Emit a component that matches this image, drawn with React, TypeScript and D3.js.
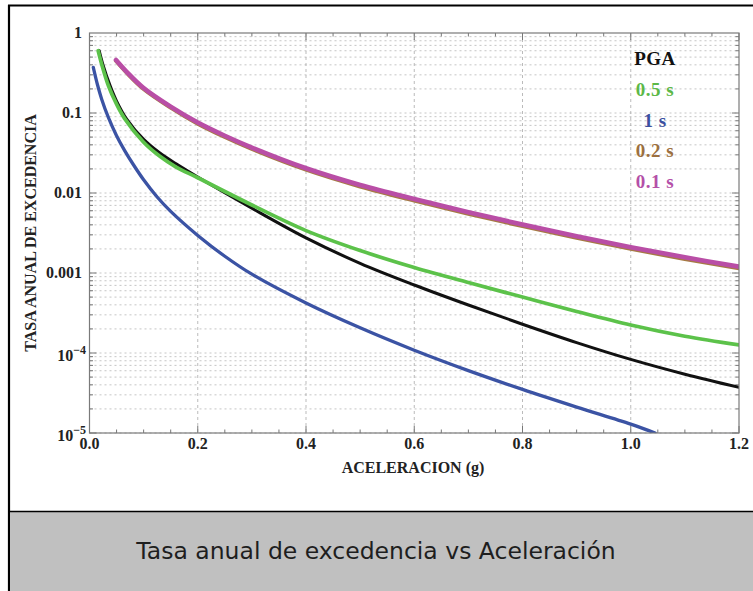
import React from "react";
import * as d3 from "d3";

const xTicks = [0, 0.2, 0.4, 0.6, 0.8, 1.0, 1.2];
const xTickLabels = ["0.0", "0.2", "0.4", "0.6", "0.8", "1.0", "1.2"];
const yDecades = [1, 0.1, 0.01, 0.001, 1e-4, 1e-5];
const yTickLabels = ["1", "0.1", "0.01", "0.001", "10|-4", "10|-5"];

const seriesNames = ["PGA", "0.5 s", "1 s", "0.2 s", "0.1 s"];
const seriesColors = ["#111111", "#5cc24a", "#3b53a4", "#a67a45", "#b94ea6"];
const labelColors = ["#111111", "#5cb848", "#3b4fa0", "#9c7040", "#b450a8"];

const pgaData: [number, number][] = [
  [0.018, 0.6], [0.025, 0.4], [0.038, 0.22], [0.05, 0.141], [0.069, 0.0832],
  [0.1, 0.0468], [0.13, 0.0316], [0.16, 0.0232], [0.2, 0.01585], [0.3, 0.00646],
  [0.4, 0.00275], [0.5, 0.00132], [0.6, 0.000708], [0.7, 0.000398], [0.8, 0.000229],
  [0.9, 0.000135], [1.0, 0.0000832], [1.1, 0.0000543], [1.2, 0.0000372],
];
const s05Data: [number, number][] = [
  [0.016, 0.6], [0.022, 0.42], [0.035, 0.219], [0.05, 0.129], [0.065, 0.0851],
  [0.1, 0.0432], [0.13, 0.0288], [0.16, 0.0211], [0.2, 0.0155], [0.3, 0.00708],
  [0.4, 0.00339], [0.5, 0.00191], [0.6, 0.00117], [0.7, 0.000759], [0.8, 0.000501],
  [0.9, 0.000331], [1.0, 0.000224], [1.1, 0.000162], [1.2, 0.000126],
];
const s1Data: [number, number][] = [
  [0.007, 0.372], [0.015, 0.222], [0.0225, 0.149], [0.035, 0.0875], [0.05, 0.0521],
  [0.065, 0.0339], [0.08, 0.0232], [0.1, 0.01462], [0.125, 0.00891], [0.15, 0.00589],
  [0.2, 0.00295], [0.25, 0.00162], [0.3, 0.000966], [0.4, 0.000422], [0.5, 0.0002065],
  [0.6, 0.0001084], [0.7, 0.0000603], [0.8, 0.0000351], [0.9, 0.0000211], [1.0, 0.0000129],
  [1.045, 0.00001],
];
const s02Data: [number, number][] = [
  [0.049, 0.45], [0.07, 0.313], [0.1, 0.2], [0.15, 0.117], [0.2, 0.0737],
  [0.25, 0.0502], [0.3, 0.0356], [0.4, 0.0196], [0.5, 0.0121], [0.6, 0.00807],
  [0.7, 0.00552], [0.8, 0.00386], [0.9, 0.00276], [1.0, 0.00201], [1.1, 0.0015], [1.2, 0.00115],
];
const s01Data: [number, number][] = [
  [0.049, 0.46], [0.07, 0.32], [0.1, 0.205], [0.15, 0.12], [0.2, 0.076],
  [0.25, 0.052], [0.3, 0.037], [0.4, 0.0204], [0.5, 0.0126], [0.6, 0.00841],
  [0.7, 0.00575], [0.8, 0.00403], [0.9, 0.00288], [1.0, 0.0021], [1.1, 0.00157], [1.2, 0.0012],
];

const W = 753;
const H = 591;
const PL = 89.5, PR = 739, PT = 33, PB = 433;

export default function App() {
  const x = d3.scaleLinear().domain([0, 1.2]).range([PL, PR]);
  const y = d3.scaleLog().domain([1e-5, 1]).range([PB, PT]);
  const line = d3
    .line<[number, number]>()
    .x((d) => x(d[0]))
    .y((d) => y(d[1]))
    .curve(d3.curveCatmullRom.alpha(0.5));

  const minorY: number[] = [];
  for (let e = -5; e < 0; e++) {
    for (let m = 1; m <= 9; m++) minorY.push(m * Math.pow(10, e));
  }
  const minorX = d3.range(0, 1.2001, 0.05);
  const serif = "'Liberation Serif', 'Times New Roman', serif";

  const drawOrder: { data: [number, number][]; color: string; w: number }[] = [
    { data: s1Data, color: seriesColors[2], w: 3.3 },
    { data: s02Data, color: seriesColors[3], w: 4.2 },
    { data: s01Data, color: seriesColors[4], w: 4.6 },
    { data: pgaData, color: seriesColors[0], w: 3 },
    { data: s05Data, color: seriesColors[1], w: 3.7 },
  ];

  return (
    <svg
      width={W}
      height={H}
      style={{ position: "absolute", left: 0, top: 0, background: "#fff" }}
    >
      <defs>
        <clipPath id="plotclip">
          <rect x={PL} y={PT} width={PR - PL} height={PB - PT} />
        </clipPath>
      </defs>
      <line x1={8} y1={5.5} x2={W} y2={5.5} stroke="#000" strokeWidth={2} />
      <line x1={9} y1={5} x2={9} y2={H} stroke="#000" strokeWidth={2.2} />
      <rect x={10} y={512} width={W - 10} height={H - 512} fill="#c0c0c0" />
      <line x1={8} y1={511.5} x2={W} y2={511.5} stroke="#000" strokeWidth={1.5} />
      <text
        x={376}
        y={559}
        textAnchor="middle"
        fontFamily="'DejaVu Sans', Verdana, sans-serif"
        fontSize={23.5}
        fill="#1e1e1e"
      >
        Tasa anual de excedencia vs Aceleración
      </text>

      {minorY.map((v, i) => (
        <line
          key={"gy" + i}
          x1={PL}
          x2={PR}
          y1={y(v)}
          y2={y(v)}
          stroke="#b8b8b8"
          strokeWidth={0.8}
          strokeDasharray="2,3"
        />
      ))}
      {xTicks.slice(1, -1).map((v, i) => (
        <line
          key={"gx" + i}
          x1={x(v)}
          x2={x(v)}
          y1={PT}
          y2={PB}
          stroke="#aaaaaa"
          strokeWidth={0.8}
          strokeDasharray="3,3"
        />
      ))}

      {minorY.map((v, i) => {
        const major = i % 9 === 0;
        const len = major ? 7 : 3.5;
        return (
          <g key={"ty" + i}>
            <line x1={PL} x2={PL + len} y1={y(v)} y2={y(v)} stroke="#777" strokeWidth={1} />
            <line x1={PR} x2={PR - len} y1={y(v)} y2={y(v)} stroke="#777" strokeWidth={1} />
          </g>
        );
      })}
      {minorX.map((v, i) => {
        const major = i % 4 === 0;
        const len = major ? 7 : 3.5;
        return (
          <g key={"tx" + i}>
            <line x1={x(v)} x2={x(v)} y1={PB} y2={PB - len} stroke="#777" strokeWidth={1} />
            <line x1={x(v)} x2={x(v)} y1={PT} y2={PT + len} stroke="#777" strokeWidth={1} />
          </g>
        );
      })}

      <g clipPath="url(#plotclip)">
        {drawOrder.map((s, i) => (
          <path
            key={"s" + i}
            d={line(s.data) || ""}
            fill="none"
            stroke={s.color}
            strokeWidth={s.w}
            strokeLinecap="round"
            strokeLinejoin="round"
          />
        ))}
      </g>

      <rect
        x={PL}
        y={PT}
        width={PR - PL}
        height={PB - PT}
        fill="none"
        stroke="#7a7a7a"
        strokeWidth={1.2}
      />

      {yDecades.map((v, i) => {
        const lab = yTickLabels[i];
        if (lab.includes("|")) {
          const [base, exp] = lab.split("|");
          return (
            <text
              key={"yl" + i}
              x={86}
              y={y(v) + 8}
              textAnchor="end"
              fontFamily={serif}
              fontWeight="bold"
              fontSize={16}
              fill="#222"
            >
              {base}
              <tspan fontSize={12} dy={-7}>
                {"\u2212" + exp.replace("-", "")}
              </tspan>
            </text>
          );
        }
        return (
          <text
            key={"yl" + i}
            x={82}
            y={y(v) + 5}
            textAnchor="end"
            fontFamily={serif}
            fontWeight="bold"
            fontSize={16}
            fill="#222"
          >
            {lab}
          </text>
        );
      })}

      {xTicks.map((v, i) => (
        <text
          key={"xl" + i}
          x={x(v)}
          y={449}
          textAnchor="middle"
          fontFamily={serif}
          fontWeight="bold"
          fontSize={16}
          fill="#222"
        >
          {xTickLabels[i]}
        </text>
      ))}

      <text
        x={413}
        y={473}
        textAnchor="middle"
        fontFamily={serif}
        fontWeight="bold"
        fontSize={16}
        fill="#222"
      >
        ACELERACION (g)
      </text>
      <text
        transform="translate(36,233) rotate(-90)"
        textAnchor="middle"
        fontFamily={serif}
        fontWeight="bold"
        fontSize={16}
        fill="#222"
      >
        TASA ANUAL DE EXCEDENCIA
      </text>

      {seriesNames.map((n, i) => (
        <text
          key={"lg" + i}
          x={655}
          y={65 + i * 30.8}
          textAnchor="middle"
          fontFamily={serif}
          fontWeight="bold"
          fontSize={19}
          letterSpacing={0.5}
          fill={labelColors[i]}
        >
          {n}
        </text>
      ))}
    </svg>
  );
}
